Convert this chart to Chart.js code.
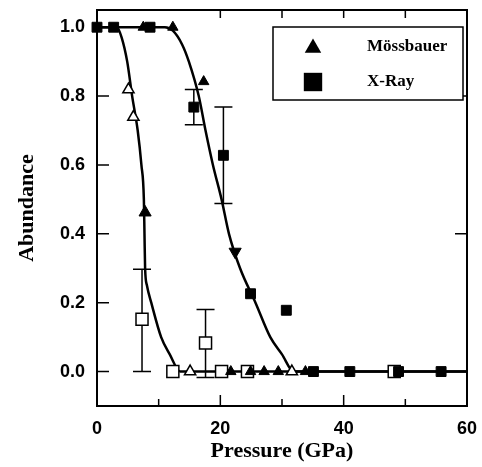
<!DOCTYPE html>
<html>
<head>
<meta charset="utf-8">
<script src="https://cdn.jsdelivr.net/npm/chart.js@4.4.1/dist/chart.umd.min.js"></script>
<style>
    html, body { margin: 0; padding: 0; background: #fff; }
    #wrap { width: 482px; height: 467px; }
</style>
</head>
<body>
<div id="wrap"><canvas id="chart" width="482" height="467"></canvas></div>
<script>
// Mössbauer (triangles) and X-ray (squares); filled = compression, open = decompression
const mossFilledX = [7.5, 12.3, 17.3, 21.7, 24.9, 27.1, 29.4, 33.8];
const mossFilledY = [1.0, 1.0, 0.842, 0, 0, 0, 0, 0];
const xrayFilledX = [0, 2.7, 8.6, 15.7, 20.5, 24.9, 30.7, 35.1, 41.0, 48.9, 55.8];
const xrayFilledY = [1.0, 1.0, 1.0, 0.768, 0.628, 0.226, 0.178, 0, 0, 0, 0];
const mossOpenX = [5.1, 5.9, 15.1, 31.6];
const mossOpenY = [0.819, 0.739, 0, 0];
const xrayOpenX = [7.3, 12.3, 17.6, 20.2, 24.4, 48.2];
const xrayOpenY = [0.152, 0, 0.083, 0, 0, 0];

// error bars (x, low, high)
const errX = [15.7, 20.5, 7.3, 17.6];
const errLow = [0.717, 0.488, 0.0, -0.017];
const errHigh = [0.819, 0.768, 0.297, 0.18];

// guide curves
const curveLowX = [0, 3.2, 4.0, 4.9, 5.7, 6.6, 7.2, 7.6, 7.7, 7.8, 8.1, 8.8, 10.4, 11.8, 13.5, 60];
const curveLowY = [1, 1, 0.97, 0.9, 0.8, 0.7, 0.6, 0.5, 0.4, 0.3, 0.25, 0.2, 0.1, 0.05, 0, 0];
const curveHighX = [0, 11.0, 12.3, 13.8, 14.9, 16.5, 17.6, 18.8, 20.2, 21.4, 23.2, 25.7, 28.1, 30.0, 31.9, 60];
const curveHighY = [1, 1, 0.99, 0.95, 0.9, 0.8, 0.7, 0.6, 0.5, 0.4, 0.3, 0.2, 0.1, 0.05, 0, 0];

// direction arrows on the curves
const arrowX = [7.8, 22.4];
const arrowY = [0.462, 0.348];
const arrowRot = [0, 180];

const xTicks = [0, 20, 40, 60];
const xMinorTicks = [10, 30, 50];
const yTicks = [0, 0.2, 0.4, 0.6, 0.8, 1.0];
const topTicks = [20, 30, 40, 50];
const rightTicks = [0.4, 0.8];
const legendLabels = ['Mössbauer', 'X-Ray'];

const pts = (xs, ys) => xs.map((v, i) => ({ x: v, y: ys[i] }));

// drop the half-label overhang Chart.js reserves, so the frame sits where the figure has it
function noOverhang(scale) {
    scale.paddingLeft = 0;
    scale.paddingRight = 0;
    scale.paddingTop = 0;
    scale.paddingBottom = 0;
}

const frameAndTicks = {
    id: 'frameAndTicks',
    beforeDatasetsDraw(chart) {
        const { ctx, scales: { x, y } } = chart;
        ctx.save();
        ctx.strokeStyle = '#000';
        ctx.lineWidth = 1.5;
        errX.forEach((v, i) => {
            const px = x.getPixelForValue(v);
            const lo = y.getPixelForValue(errLow[i]);
            const hi = y.getPixelForValue(errHigh[i]);
            ctx.beginPath();
            ctx.moveTo(px, lo); ctx.lineTo(px, hi);
            ctx.moveTo(px - 9, lo); ctx.lineTo(px + 9, lo);
            ctx.moveTo(px - 9, hi); ctx.lineTo(px + 9, hi);
            ctx.stroke();
        });
        ctx.restore();
    },
    afterDraw(chart) {
        const { ctx, chartArea: a, scales: { x, y } } = chart;
        ctx.save();
        ctx.strokeStyle = '#000';
        ctx.lineWidth = 2;
        ctx.strokeRect(a.left, a.top, a.right - a.left, a.bottom - a.top);

        ctx.lineWidth = 1.5;
        ctx.beginPath();
        yTicks.forEach(v => {
            const py = y.getPixelForValue(v);
            ctx.moveTo(a.left, py); ctx.lineTo(a.left + 12, py);
        });
        rightTicks.forEach(v => {
            const py = y.getPixelForValue(v);
            ctx.moveTo(a.right, py); ctx.lineTo(a.right - 12, py);
        });
        xTicks.forEach(v => {
            const px = x.getPixelForValue(v);
            ctx.moveTo(px, a.bottom); ctx.lineTo(px, a.bottom - 11);
        });
        xMinorTicks.forEach(v => {
            const px = x.getPixelForValue(v);
            ctx.moveTo(px, a.bottom); ctx.lineTo(px, a.bottom - 7);
        });
        topTicks.forEach(v => {
            const px = x.getPixelForValue(v);
            ctx.moveTo(px, a.top); ctx.lineTo(px, a.top + 8);
        });
        ctx.stroke();

        // legend box
        ctx.lineWidth = 1.5;
        ctx.fillStyle = '#fff';
        ctx.fillRect(273, 27, 190, 73);
        ctx.strokeRect(273, 27, 190, 73);
        ctx.fillStyle = '#000';
        Chart.helpers.drawPoint(ctx, { pointStyle: 'triangle', radius: 9.5, rotation: 0, borderWidth: 0 }, 313, 48);
        Chart.helpers.drawPoint(ctx, { pointStyle: 'rect', radius: 13, rotation: 0, borderWidth: 0 }, 313, 82);
        ctx.font = 'bold 17px "Liberation Serif", serif';
        ctx.textAlign = 'left';
        ctx.textBaseline = 'middle';
        ctx.fillText(legendLabels[0], 367, 47);
        ctx.fillText(legendLabels[1], 367, 82);
        ctx.restore();
    }
};

new Chart(document.getElementById('chart'), {
    type: 'scatter',
    data: {
        datasets: [
            {
                label: legendLabels[0],
                data: pts(mossFilledX, mossFilledY),
                pointStyle: 'triangle',
                pointRadius: 6,
                backgroundColor: '#000',
                borderColor: '#000',
                borderWidth: 1,
                clip: false,
            },
            {
                label: legendLabels[1],
                data: pts(xrayFilledX, xrayFilledY),
                pointStyle: 'rect',
                pointRadius: 7,
                backgroundColor: '#000',
                borderColor: '#000',
                borderWidth: 1,
                clip: false,
            },
            {
                label: 'arrows',
                data: pts(arrowX, arrowY),
                pointStyle: 'triangle',
                pointRadius: 7,
                rotation: arrowRot,
                backgroundColor: '#000',
                borderColor: '#000',
                borderWidth: 1,
            },
            {
                label: legendLabels[0] + ' (open)',
                data: pts(mossOpenX, mossOpenY),
                pointStyle: 'triangle',
                pointRadius: 6.5,
                backgroundColor: '#fff',
                borderColor: '#000',
                borderWidth: 1.5,
                clip: false,
            },
            {
                label: legendLabels[1] + ' (open)',
                data: pts(xrayOpenX, xrayOpenY),
                pointStyle: 'rect',
                pointRadius: 8.5,
                backgroundColor: '#fff',
                borderColor: '#000',
                borderWidth: 1.5,
                clip: false,
            },
            {
                type: 'line',
                label: 'fit low',
                data: pts(curveLowX, curveLowY),
                borderColor: '#000',
                borderWidth: 2.5,
                pointRadius: 0,
                cubicInterpolationMode: 'monotone',
                fill: false,
            },
            {
                type: 'line',
                label: 'fit high',
                data: pts(curveHighX, curveHighY),
                borderColor: '#000',
                borderWidth: 2.5,
                pointRadius: 0,
                cubicInterpolationMode: 'monotone',
                fill: false,
            },
        ],
    },
    options: {
        responsive: false,
        devicePixelRatio: 1,
        animation: false,
        events: [],
        layout: { padding: { left: 0, top: 7, right: 15, bottom: 0 } },
        plugins: {
            legend: { display: false },
            tooltip: { enabled: false },
        },
        scales: {
            x: {
                type: 'linear',
                min: 0,
                max: 60,
                afterFit(scale) { scale.height = 61; noOverhang(scale); },
                afterBuildTicks(scale) { scale.ticks = xTicks.map(v => ({ value: v })); },
                grid: { display: false, drawTicks: false },
                border: { display: false },
                ticks: {
                    autoSkip: false,
                    maxRotation: 0,
                    padding: 12,
                    color: '#000',
                    font: { family: '"Liberation Sans", Arial, sans-serif', size: 18, weight: 'bold' },
                },
                title: {
                    display: true,
                    text: 'Pressure (GPa)',
                    color: '#000',
                    padding: { top: 0, bottom: 2 },
                    font: { family: '"Liberation Serif", serif', size: 22, weight: 'bold' },
                },
            },
            y: {
                type: 'linear',
                min: -0.1,
                max: 1.05,
                afterFit(scale) { scale.width = 97; noOverhang(scale); },
                afterBuildTicks(scale) { scale.ticks = yTicks.map(v => ({ value: v })); },
                grid: { display: false, drawTicks: false },
                border: { display: false },
                ticks: {
                    padding: 12,
                    color: '#000',
                    font: { family: '"Liberation Sans", Arial, sans-serif', size: 18, weight: 'bold' },
                    callback: v => v.toFixed(1),
                },
                title: {
                    display: true,
                    text: 'Abundance',
                    color: '#000',
                    padding: { top: 14, bottom: 0 },
                    font: { family: '"Liberation Serif", serif', size: 22, weight: 'bold' },
                },
            },
        },
    },
    plugins: [frameAndTicks],
});
</script>
</body>
</html>
